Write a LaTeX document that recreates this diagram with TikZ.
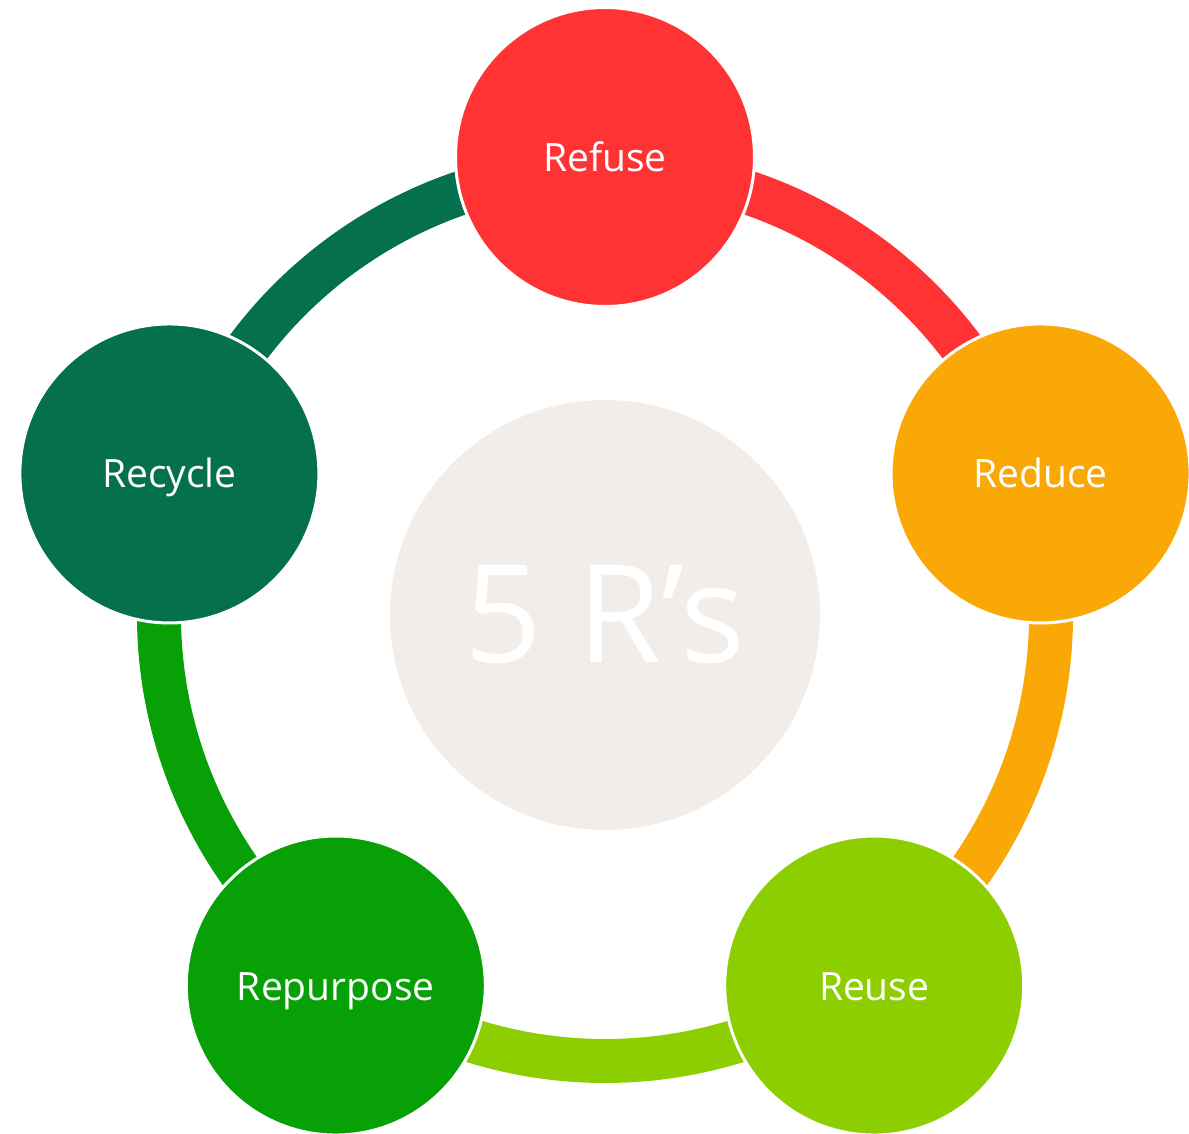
\documentclass[tikz,border=0pt]{standalone}
\usepackage{fontspec}
\setmainfont{Open Sans}
\usepackage{tikz}
\definecolor{refusered}{RGB}{255,51,51}
\definecolor{reduceorange}{RGB}{250,168,5}
\definecolor{reuselime}{RGB}{141,206,0}
\definecolor{repurposegreen}{RGB}{7,160,7}
\definecolor{recycledark}{RGB}{5,112,78}
\definecolor{hubbeige}{RGB}{242,237,232}
\tikzset{
  rbubble/.style={circle, draw=white, line width=3pt, minimum size=299pt, inner sep=0pt,
    text=white, font=\fontsize{39}{45}\selectfont, text height=29pt, text depth=0pt},
  ringseg/.style={line width=44pt, line cap=butt}
}
\newcommand{\ringarc}[3]{\draw[ringseg, #1] (hub.center) ++(#2:446) arc[start angle=#2, end angle=#3, radius=446];}

\begin{document}
\begin{tikzpicture}[x=1pt, y=1pt]
        \useasboundingbox (-605,-518) rectangle (584,615);
        % centre
        \node[circle, fill=hubbeige, minimum size=430pt, inner sep=0pt, text=white,
          font=\fontsize{136}{140}\selectfont] (hub) at (0,0) {5 R’s};
        % ring
        \ringarc{refusered}{90}{18}
        \ringarc{reduceorange}{18}{-54}
        \ringarc{reuselime}{-54}{-126}
        \ringarc{repurposegreen}{-126}{-198}
        \ringarc{recycledark}{162}{90}
        % bubbles
        \node[rbubble, fill=refusered] (refuse) at (90:458) {Refuse};
        \node[rbubble, fill=reduceorange] (reduce) at (18:458) {Reduce};
        \node[rbubble, fill=reuselime] (reuse) at (-54:458) {Reuse};
        \node[rbubble, fill=repurposegreen] (repurpose) at (-126:458) {Repurpose};
        \node[rbubble, fill=recycledark] (recycle) at (162:458) {Recycle};
    \end{tikzpicture}
\end{document}
